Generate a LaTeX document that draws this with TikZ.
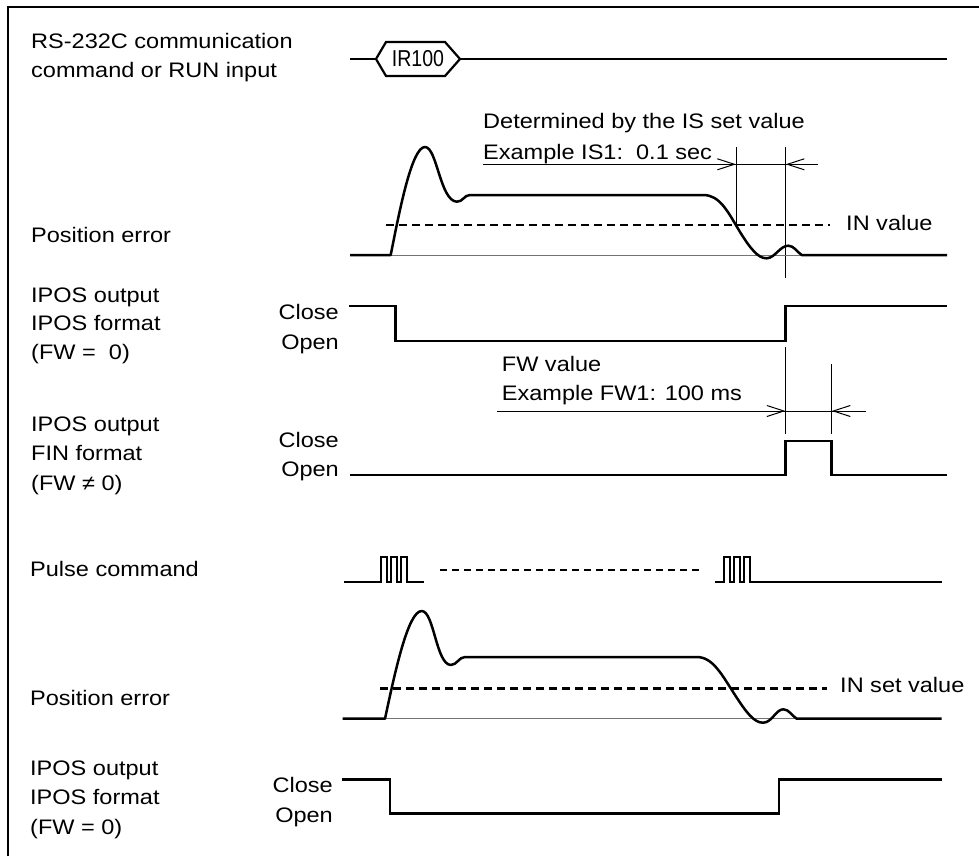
\documentclass[tikz,border=0pt]{standalone}
\usepackage{fontspec}
\setmainfont[FakeStretch=1.12]{Liberation Sans}
\newfontfamily\irfont[FakeStretch=0.85]{Liberation Sans}
\usetikzlibrary{arrows.meta}
\begin{document}
\begin{tikzpicture}[x=1pt,y=-1pt,
  lbl/.style={anchor=base west,inner sep=0pt,font=\fontsize{21}{24}\selectfont},
  rlbl/.style={anchor=base east,inner sep=0pt,font=\fontsize{21}{24}\selectfont},
  sig/.style={line width=2.5pt,line join=miter},
  pulse/.style={line width=2.2pt,line join=miter},
  thinl/.style={line width=1pt},
  basel/.style={line width=0.9pt,black!55},
  dsh/.style={line width=2.5pt,dash pattern=on 8pt off 5pt},
  dimarrow/.style={line width=1pt,-{Straight Barb[length=17pt,width=11pt,line width=1pt]}}]
\useasboundingbox (0,0) rectangle (979,856);
% frame
\draw[line width=2.5pt] (8,856) -- (8,7) -- (979,7);

% ---------- row 1: RS-232C ----------
\node[lbl] (l1a) at (31,49) {RS-232C communication};
\node[lbl] (l1b) at (31,78) {command or RUN input};
\coordinate (s1a) at (350,59);
\coordinate (hxL) at (376,59);
\coordinate (hxR) at (460,59);
\coordinate (s1b) at (947,59);
\draw[line width=2.2pt,line join=miter] (hxL) -- (386,42) -- (445,42) -- (hxR) -- (445,76) -- (386,76) -- cycle;
\node[inner sep=0pt,font=\irfont\fontsize{23}{24}\selectfont] (ir) at (418,59) {IR100};
\draw[sig] (s1a) -- (hxL);
\draw[sig] (hxR) -- (s1b);

% ---------- row 2: position error ----------
\node[lbl] (l2) at (31,242) {Position error};
\node[lbl] (is1) at (483,128.5) {Determined by the IS set value};
\node[lbl] (is2) at (483,159) {Example IS1:\ \ 0.1 sec};
\coordinate (isA) at (483,164.3);
\coordinate (isB) at (818,164.3);
\coordinate (isV1t) at (736,147);
\coordinate (isV1b) at (736,225);
\coordinate (isV2t) at (785.7,147);
\coordinate (isV2b) at (785.7,278);
\draw[thinl] (isV1t) -- (isV1b);
\draw[thinl] (isV2t) -- (isV2b);
\draw[thinl] (isA) -- (isB);
\draw[dimarrow] (isA) -- (isV1t |- isA);
\draw[dimarrow] (isB) -- (isV2t |- isB);
\draw[basel] (390.7,255) -- (801.7,255);
\draw[dsh] (386,225) -- (830,225);
\node[lbl] (inv) at (846,230) {IN value};
\draw[sig,line join=round] (350,255) -- (390.7,255)
  .. controls (400,208) and (412,147) .. (425,147)
  .. controls (437,147) and (440,200.5) .. (456.7,201.7)
  .. controls (463,202) and (464,195) .. (470,195)
  -- (703.3,195)
  .. controls (720,195) and (728,212) .. (740,232)
  .. controls (750,248) and (758,258.6) .. (766.7,258.3)
  .. controls (775,258) and (780,245.7) .. (788.3,245.7)
  .. controls (794,245.7) and (797,252) .. (801.7,255)
  -- (947,255);

% ---------- row 3: IPOS format ----------
\node[lbl] (l3a) at (31,302) {IPOS output};
\node[lbl] (l3b) at (31,330.5) {IPOS format};
\node[lbl] (l3c) at (31,359.5) {(FW =\ \ 0)};
\node[rlbl] (c3) at (339,319.5) {Close};
\node[rlbl] (o3) at (339,349.5) {Open};
\draw[sig] (349,306) -- (395.7,306) -- (395.7,341) -- (785.5,341) -- (785.5,306) -- (947,306);

% ---------- FW dimension ----------
\node[lbl] (fw1) at (501.7,371.5) {FW value};
\node[lbl] (fw2) at (501.7,400.5) {Example FW1: 100 ms};
\coordinate (fwA) at (497,411);
\coordinate (fwB) at (866,411);
\coordinate (fwV1t) at (785.5,347);
\coordinate (fwV1b) at (785.5,434);
\coordinate (fwV2t) at (831.7,364);
\coordinate (fwV2b) at (831.7,434);
\draw[thinl] (fwV1t) -- (fwV1b);
\draw[thinl] (fwV2t) -- (fwV2b);
\draw[thinl] (fwA) -- (fwB);
\draw[dimarrow] (fwA) -- (fwV1t |- fwA);
\draw[dimarrow] (fwB) -- (fwV2t |- fwB);

% ---------- row 4: FIN format ----------
\node[lbl] (l4a) at (31,431.5) {IPOS output};
\node[lbl] (l4b) at (31,460.5) {FIN format};
\node[lbl] (l4c) at (31,490.5) {(FW ≠ 0)};
\node[rlbl] (c4) at (339,447) {Close};
\node[rlbl] (o4) at (339,476) {Open};
\draw[sig] (349.7,475) -- (785.5,475) -- (785.5,441) -- (831.7,441) -- (831.7,475) -- (947,475);

% ---------- row 5: pulse command ----------
\node[lbl] (l5) at (30,576.5) {Pulse command};
\draw[pulse] (344,582) -- (381,582) -- (381,557) -- (387,557) -- (387,582) -- (391,582) -- (391,557) -- (397,557) -- (397,582) -- (401,582) -- (401,557) -- (407,557) -- (407,582) -- (424,582);
\draw[line width=2.4pt,dash pattern=on 6.5pt off 5.5pt] (440,570) -- (702,570);
\draw[pulse] (715,582) -- (724,582) -- (724,557) -- (730,557) -- (730,582) -- (734,582) -- (734,557) -- (740,557) -- (740,582) -- (744,582) -- (744,557) -- (750,557) -- (750,582) -- (941.6,582);

% ---------- row 6: position error ----------
\node[lbl] (l6) at (30,705) {Position error};
\draw[basel] (385,718.7) -- (796.7,718.7);
\draw[dsh] (380,688.3) -- (827,688.3);
\node[lbl] (insv) at (840,692.5) {IN set value};
\draw[sig,line join=round] (342.7,718.7) -- (385,718.7)
  .. controls (395,672) and (408,611) .. (421.7,611)
  .. controls (434,611) and (436,664) .. (450.7,665)
  .. controls (457,665) and (459,657) .. (465,657)
  -- (696.7,657)
  .. controls (713,657) and (722,675) .. (735,695)
  .. controls (746,712) and (754,723) .. (763.3,722.7)
  .. controls (772,722.5) and (776,709.3) .. (783.3,709.3)
  .. controls (789,709.3) and (792,716) .. (796.7,718.7)
  -- (941.6,718.7);

% ---------- row 7: IPOS format ----------
\node[lbl] (l7a) at (30,775.5) {IPOS output};
\node[lbl] (l7b) at (30,804.5) {IPOS format};
\node[lbl] (l7c) at (30,834.5) {(FW = 0)};
\node[rlbl] (c7) at (333,792) {Close};
\node[rlbl] (o7) at (333,822) {Open};
\draw[sig] (342,779.5) -- (390,779.5) -- (390,813.3) -- (779,813.3) -- (779,779.5) -- (941.6,779.5);
\end{tikzpicture}
\end{document}
